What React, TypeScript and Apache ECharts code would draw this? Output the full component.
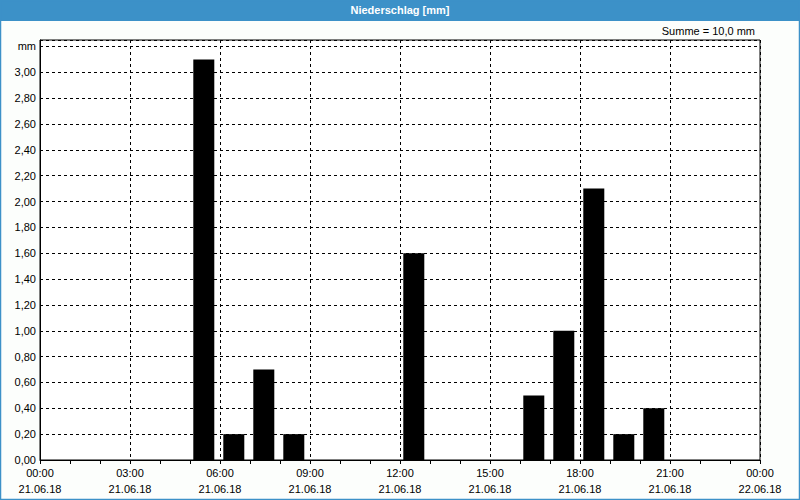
import React, { useEffect, useRef } from "react";
import * as echarts from "echarts";

const title = "Niederschlag [mm]";
const sumLabel = "Summe = 10,0 mm";
const dateLabels = ["21.06.18", "21.06.18", "21.06.18", "21.06.18", "21.06.18", "21.06.18", "21.06.18", "21.06.18", "22.06.18"];
const hourStarts = [5, 6, 7, 8, 12, 16, 17, 18, 19, 20];
const precip = [3.1, 0.2, 0.7, 0.2, 1.6, 0.5, 1.0, 2.1, 0.2, 0.4];

const FONT = "Liberation Sans";

export default function App() {
  const ref = useRef<HTMLDivElement>(null);
  useEffect(() => {
    const chart = echarts.init(ref.current!, null, { renderer: "svg" });
    const data = hourStarts.map((h, i) => [h + 0.46, precip[i]]);
    chart.setOption({
      animation: false,
      backgroundColor: "#fcfefc",
      graphic: [
        { type: "rect", shape: { x: 0, y: 0, width: 800, height: 21 }, style: { fill: "#3c91c8" }, silent: true },
        { type: "rect", shape: { x: 0.5, y: 0.5, width: 799, height: 499 }, style: { fill: "none", stroke: "#3c91c8", lineWidth: 1.5 }, silent: true },
        { type: "text", x: 400, y: 10, style: { text: title, fill: "#ffffff", font: `bold 11px ${FONT}`, align: "center", verticalAlign: "middle" }, silent: true },
        { type: "text", x: 755, y: 31, style: { text: sumLabel, fill: "#000", font: `11px ${FONT}`, align: "right", verticalAlign: "middle" }, silent: true },
      ],
      grid: { left: 40, right: 40, top: 40, bottom: 40, show: true, borderColor: "#000", borderWidth: 1, backgroundColor: "#ffffff" },
      xAxis: {
        type: "value",
        min: 0,
        max: 24,
        interval: 3,
        axisLine: { show: true, lineStyle: { color: "#000", width: 1 } },
        axisTick: { show: true, length: 4, lineStyle: { color: "#000" } },
        minorTick: { show: true, splitNumber: 3, length: 4, lineStyle: { color: "#000" } },
        splitLine: { show: true, lineStyle: { color: "#000", type: [3, 3], width: 1 } },
        axisLabel: {
          color: "#000",
          fontFamily: FONT,
          fontSize: 11,
          lineHeight: 16,
          margin: 5,
          formatter: (v: number) => {
            const i = Math.round(v / 3);
            const hh = String((v % 24)).padStart(2, "0");
            return `${hh}:00\n${dateLabels[i] ?? ""}`;
          },
        },
      },
      yAxis: {
        type: "value",
        min: 0,
        max: 3.25,
        interval: 0.2,
        axisLine: { show: true, lineStyle: { color: "#000", width: 1 } },
        axisTick: { show: false },
        splitLine: { show: true, lineStyle: { color: "#000", type: [3, 3], width: 1 } },
        axisLabel: {
          color: "#000",
          fontFamily: FONT,
          fontSize: 11,
          margin: 4,
          formatter: (v: number) => {
            if (Math.abs(v - 3.2) < 1e-6) return "mm";
            if (v > 3.2) return "";
            return v.toFixed(2).replace(".", ",");
          },
        },
      },
      series: [
        {
          type: "bar",
          data,
          barWidth: 21,
          itemStyle: { color: "#000000" },
        },
      ],
    });
    return () => chart.dispose();
  }, []);
  return <div ref={ref} style={{ position: "fixed", left: 0, top: 0, width: 800, height: 500 }} />;
}
